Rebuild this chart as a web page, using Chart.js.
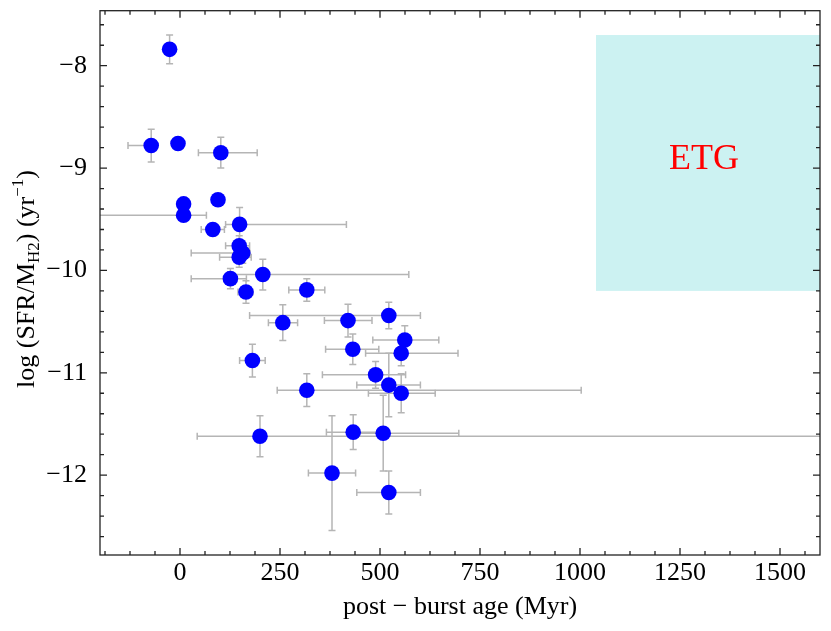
<!DOCTYPE html>
<html><head><meta charset="utf-8">
<script src="https://cdn.jsdelivr.net/npm/chart.js@4.4.0/dist/chart.umd.min.js"></script>
<style>html,body{margin:0;padding:0;background:#fff;overflow:hidden}</style>
</head><body>
<canvas id="c" width="831" height="631"></canvas>
<script>
// ---- data ----
const ageMyr     = [-26, -72, -5, 102, 95, 9, 9, 82, 149, 148, 157, 148, 126, 207, 165, 317, 257, 420, 522, 562, 432, 553, 181, 489, 522, 553, 317, 200, 433, 508, 380, 522];
const logSfeH2   = [-7.84, -8.78, -8.76, -8.85, -9.31, -9.35, -9.46, -9.60, -9.55, -9.76, -9.83, -9.87, -10.08, -10.04, -10.21, -10.19, -10.51, -10.49, -10.44, -10.68, -10.77, -10.81, -10.88, -11.02, -11.12, -11.20, -11.17, -11.62, -11.58, -11.59, -11.98, -12.17];
const ageErrLow  = [0, 58, 0, 56, 0, 0, 400, 29, 35, 34, 129, 49, 98, 87, 20, 45, 36, 59, 348, 80, 68, 89, 32, 133, 80, 82, 74, 157, 67, 68, 59, 80];
const ageErrHigh = [0, 15, 0, 91, 0, 0, 57, 29, 267, 26, 18, 30, 40, 365, 17, 45, 37, 60, 79, 85, 65, 142, 32, 75, 79, 85, 686, 1800, 67, 189, 59, 79];
const sfeErr     = [0.14, 0.16, 0, 0.15, 0, 0, 0, 0.05, 0.165, 0.1, 0.1, 0.1, 0.1, 0.15, 0.11, 0.11, 0.175, 0.16, 0.13, 0.14, 0.15, 0.12, 0.16, 0.13, 0.31, 0.19, 0.16, 0.2, 0.17, 0.37, 0.56, 0.21];
const xTickValues = [0, 250, 500, 750, 1000, 1250, 1500];
const yTickValues = [-12, -11, -10, -9, -8];
const etgAgeRange = [1040, 1600];
const etgSfeRange = [-10.2, -7.7];
const etgLabel = 'ETG';

const SERIF = '"Liberation Serif", "Times New Roman", serif';
const fmt = v => (v < 0 ? '\u2212' + Math.abs(v) : String(v));

const points = ageMyr.map((a, i) => ({x: a, y: logSfeH2[i]}));

const decor = {
  id: 'decor',
  beforeDatasetsDraw(chart) {
    const {ctx, chartArea: a, scales: {x, y}} = chart;
    ctx.save();
    ctx.beginPath(); ctx.rect(a.left, a.top, a.right - a.left, a.bottom - a.top); ctx.clip();
    // ETG region
    const bx0 = x.getPixelForValue(etgAgeRange[0]), bx1 = x.getPixelForValue(etgAgeRange[1]);
    const by0 = y.getPixelForValue(etgSfeRange[1]), by1 = y.getPixelForValue(etgSfeRange[0]);
    ctx.fillStyle = 'rgba(0,191,191,0.2)';
    ctx.fillRect(bx0, by0, bx1 - bx0, by1 - by0);
    ctx.fillStyle = '#ff0000';
    ctx.font = '36px ' + SERIF;
    ctx.textAlign = 'center'; ctx.textBaseline = 'middle';
    ctx.fillText(etgLabel, (bx0 + bx1) / 2 - 4, (by0 + by1) / 2 - 3);
    // error bars
    ctx.strokeStyle = '#b5b5b5'; ctx.lineWidth = 1.5;
    const cap = 3.5;
    for (let i = 0; i < ageMyr.length; i++) {
      const px = x.getPixelForValue(ageMyr[i]), py = y.getPixelForValue(logSfeH2[i]);
      if (ageErrLow[i] || ageErrHigh[i]) {
        const xl = x.getPixelForValue(ageMyr[i] - ageErrLow[i]);
        const xr = x.getPixelForValue(ageMyr[i] + ageErrHigh[i]);
        ctx.beginPath();
        ctx.moveTo(xl, py); ctx.lineTo(xr, py);
        ctx.moveTo(xl, py - cap); ctx.lineTo(xl, py + cap);
        ctx.moveTo(xr, py - cap); ctx.lineTo(xr, py + cap);
        ctx.stroke();
      }
      if (sfeErr[i]) {
        const yt = y.getPixelForValue(logSfeH2[i] + sfeErr[i]);
        const yb = y.getPixelForValue(logSfeH2[i] - sfeErr[i]);
        ctx.beginPath();
        ctx.moveTo(px, yt); ctx.lineTo(px, yb);
        ctx.moveTo(px - cap, yt); ctx.lineTo(px + cap, yt);
        ctx.moveTo(px - cap, yb); ctx.lineTo(px + cap, yb);
        ctx.stroke();
      }
    }
    ctx.restore();
  },
  afterDraw(chart) {
    const {ctx, chartArea: a, scales: {x, y}} = chart;
    ctx.save();
    ctx.strokeStyle = '#222'; ctx.lineWidth = 1.3;
    ctx.strokeRect(a.left, a.top, a.right - a.left, a.bottom - a.top);
    const major = 7, minor = 4;
    ctx.beginPath();
    // x ticks (top and bottom)
    for (let v = -187.5; v <= 1600; v += 62.5) {
      const px = x.getPixelForValue(v);
      const len = (Math.abs(v % 250) < 1e-6) ? major : minor;
      ctx.moveTo(px, a.bottom); ctx.lineTo(px, a.bottom - len);
      ctx.moveTo(px, a.top); ctx.lineTo(px, a.top + len);
    }
    // y ticks (left and right)
    for (let k = -63; k <= -38; k++) {
      const v = k / 5;
      const py = y.getPixelForValue(v);
      const len = (k % 5 === 0) ? major : minor;
      ctx.moveTo(a.left, py); ctx.lineTo(a.left + len, py);
      ctx.moveTo(a.right, py); ctx.lineTo(a.right - len, py);
    }
    ctx.stroke();
    // axis titles
    ctx.fillStyle = '#000';
    ctx.font = '26px ' + SERIF;
    ctx.textAlign = 'center'; ctx.textBaseline = 'alphabetic';
    ctx.fillText('post \u2212 burst age (Myr)', (a.left + a.right) / 2, 614);
    // y title with sub/superscripts
    const parts = [
      {t: 'log (SFR/M', s: 26, dy: 0},
      {t: 'H2', s: 17, dy: 5},
      {t: ') (yr', s: 26, dy: 0},
      {t: '\u22121', s: 17, dy: -11},
      {t: ')', s: 26, dy: 0}
    ];
    let total = 0;
    parts.forEach(p => { ctx.font = p.s + 'px ' + SERIF; p.w = ctx.measureText(p.t).width; total += p.w; });
    ctx.translate(34, 279);
    ctx.rotate(-Math.PI / 2);
    ctx.textAlign = 'left';
    let cx = -total / 2;
    parts.forEach(p => { ctx.font = p.s + 'px ' + SERIF; ctx.fillText(p.t, cx, p.dy); cx += p.w; });
    ctx.restore();
  }
};

new Chart(document.getElementById('c'), {
  type: 'scatter',
  data: {datasets: [{
    data: points,
    pointRadius: 7.8, pointHoverRadius: 7.8,
    pointBackgroundColor: '#0000ff', pointBorderWidth: 0, pointBorderColor: '#0000ff'
  }]},
  options: {
    responsive: false, animation: false, devicePixelRatio: 1,
    layout: {padding: {left: 0, right: 11, top: 10.7, bottom: 0}},
    plugins: {legend: {display: false}, tooltip: {enabled: false}},
    scales: {
      x: {
        type: 'linear', min: -200, max: 1600,
        grid: {display: false, drawTicks: false}, border: {display: false},
        afterBuildTicks: s => { s.ticks = xTickValues.map(v => ({value: v})); },
        afterFit: s => { s.height = 76; s.paddingLeft = 0; s.paddingRight = 0; },
        ticks: {font: {family: SERIF, size: 26}, color: '#000', padding: 3, maxRotation: 0, autoSkip: false, callback: v => fmt(v)}
      },
      y: {
        type: 'linear', min: -12.78, max: -7.4625,
        grid: {display: false, drawTicks: false}, border: {display: false},
        afterBuildTicks: s => { s.ticks = yTickValues.map(v => ({value: v})); },
        afterFit: s => { s.width = 100; s.paddingTop = 0; s.paddingBottom = 0; },
        ticks: {font: {family: SERIF, size: 26}, color: '#000', padding: 13, autoSkip: false, callback: v => fmt(v)}
      }
    }
  },
  plugins: [decor]
});
</script>
</body></html>
